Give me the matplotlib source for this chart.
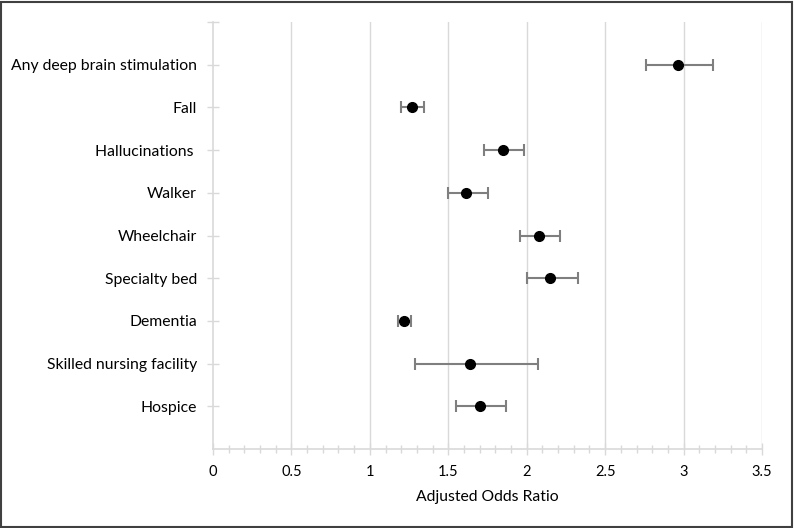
import matplotlib
matplotlib.use("Agg")
import matplotlib.pyplot as plt
from matplotlib.ticker import MultipleLocator
from matplotlib.patches import Rectangle

plt.rcParams['font.family'] = ['Lato', 'DejaVu Sans']

categories = ["Any deep brain stimulation", "Fall", "Hallucinations ", "Walker",
              "Wheelchair", "Specialty bed", "Dementia", "Skilled nursing facility", "Hospice"]
odds = [2.965, 1.27, 1.85, 1.61, 2.08, 2.15, 1.22, 1.64, 1.70]
ci_low = [2.76, 1.20, 1.73, 1.50, 1.96, 2.00, 1.18, 1.29, 1.55]
ci_high = [3.19, 1.345, 1.98, 1.75, 2.21, 2.33, 1.26, 2.07, 1.87]
xticks = [0, 0.5, 1, 1.5, 2, 2.5, 3, 3.5]
xlabels = ["0", "0.5", "1", "1.5", "2", "2.5", "3", "3.5"]

W, H = 794, 528
fig = plt.figure(figsize=(W / 100, H / 100), dpi=100)
ax = fig.add_axes([213 / W, (H - 449) / H, (762 - 213) / W, (449 - 22) / H])

ypos = list(range(1, len(categories) + 1))
xerr = [[o - l for o, l in zip(odds, ci_low)], [h - o for o, h in zip(odds, ci_high)]]

grid_c = "#d9d9d9"
for x in xticks[1:]:
    ax.axvline(x, color=grid_c, lw=1.0, zorder=0)

ax.errorbar(odds, ypos, xerr=xerr, fmt='o', color='black', ms=7,
            ecolor='#7f7f7f', elinewidth=1.5, capsize=4, capthick=1.5, zorder=3)

ax.set_xlim(0, 3.5)
ax.set_ylim(10, 0)
ax.set_xticks(xticks)
ax.set_xticklabels(xlabels, fontsize=10.5, color='#000000')
ax.xaxis.set_minor_locator(MultipleLocator(0.1))
ax.set_yticks([0] + ypos)
ax.set_yticklabels([""] + categories, fontsize=11.3, color='#000000')

for side in ['top', 'right']:
    ax.spines[side].set_visible(False)
for side in ['left', 'bottom']:
    ax.spines[side].set_color(grid_c)
    ax.spines[side].set_linewidth(1.2)

ax.tick_params(axis='y', which='major', direction='inout', length=9, color=grid_c, width=1.0, pad=7)
ax.tick_params(axis='x', which='major', direction='inout', length=9, color=grid_c, width=1.0, pad=7)
ax.tick_params(axis='x', which='minor', direction='inout', length=6, color=grid_c, width=1.0)

ax.set_xlabel("Adjusted Odds Ratio", fontsize=11.3, labelpad=8)

fig.patches.append(Rectangle((1 / W, 1 / H), (W - 3) / W, (H - 3) / H, transform=fig.transFigure,
                             fill=False, edgecolor='#404040', lw=1.5))

fig.savefig("out.png", dpi=100)
